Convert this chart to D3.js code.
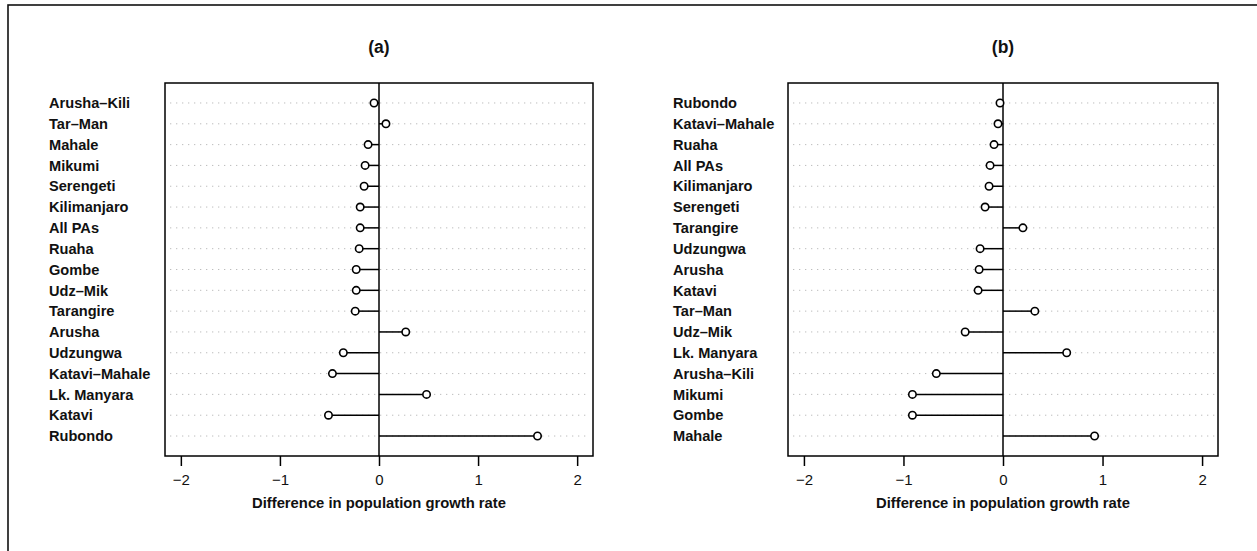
<!DOCTYPE html>
<html>
<head>
<meta charset="utf-8">
<script src="https://cdn.jsdelivr.net/npm/d3@7"></script>
<style>
  html, body { margin: 0; padding: 0; background: #fff; }
  svg { display: block; font-family: "Liberation Sans", Arial, Helvetica, sans-serif; }
</style>
</head>
<body>
<svg id="chart" width="1257" height="551"></svg>
<script>
// Panel (a): site names, top to bottom, and their growth-rate differences
const sitesA = ["Arusha\u2013Kili", "Tar\u2013Man", "Mahale", "Mikumi", "Serengeti", "Kilimanjaro",
  "All PAs", "Ruaha", "Gombe", "Udz\u2013Mik", "Tarangire", "Arusha", "Udzungwa",
  "Katavi\u2013Mahale", "Lk. Manyara", "Katavi", "Rubondo"];
const valuesA = [-0.05, 0.07, -0.11, -0.14, -0.15, -0.19, -0.19, -0.20, -0.23, -0.23, -0.24,
  0.27, -0.36, -0.47, 0.48, -0.51, 1.60];

// Panel (b)
const sitesB = ["Rubondo", "Katavi\u2013Mahale", "Ruaha", "All PAs", "Kilimanjaro", "Serengeti",
  "Tarangire", "Udzungwa", "Arusha", "Katavi", "Tar\u2013Man", "Udz\u2013Mik", "Lk. Manyara",
  "Arusha\u2013Kili", "Mikumi", "Gombe", "Mahale"];
const valuesB = [-0.03, -0.05, -0.09, -0.13, -0.14, -0.18, 0.20, -0.23, -0.24, -0.25, 0.32,
  -0.38, 0.64, -0.67, -0.91, -0.91, 0.92];

const xTicks = [-2, -1, 0, 1, 2];
const xDomain = [-2.16, 2.16];
const panelTitles = ["(a)", "(b)"];
const xTitle = "Difference in population growth rate";

const svg = d3.select("#chart");

// Outer frame (runs off the right and bottom edges)
svg.append("rect")
  .attr("x", 8).attr("y", 5)
  .attr("width", 2000).attr("height", 1000)
  .attr("fill", "none").attr("stroke", "#111").attr("stroke-width", 1.6);

function drawPanel(names, values, title, box, labelX) {
  const g = svg.append("g");
  const x = d3.scaleLinear().domain(xDomain).range([box.left, box.right]);
  const y = d3.scalePoint().domain(names).range([box.top, box.bottom]).padding(0.96);

  // dotted guide lines
  g.selectAll("line.guide").data(names).join("line")
    .attr("class", "guide")
    .attr("x1", box.left + 5).attr("x2", box.right - 3)
    .attr("y1", d => y(d)).attr("y2", d => y(d))
    .attr("stroke", "#bdbdbd").attr("stroke-width", 1)
    .attr("stroke-dasharray", "1.3,4.7");

  // zero reference line
  g.append("line")
    .attr("x1", x(0)).attr("x2", x(0))
    .attr("y1", box.top).attr("y2", box.bottom)
    .attr("stroke", "#000").attr("stroke-width", 1.5);

  // stems
  g.selectAll("line.stem").data(values).join("line")
    .attr("class", "stem")
    .attr("x1", x(0)).attr("x2", d => x(d))
    .attr("y1", (d, i) => y(names[i])).attr("y2", (d, i) => y(names[i]))
    .attr("stroke", "#000").attr("stroke-width", 1.5);

  // open points
  g.selectAll("circle").data(values).join("circle")
    .attr("cx", d => x(d))
    .attr("cy", (d, i) => y(names[i]))
    .attr("r", 3.7)
    .attr("fill", "#fff").attr("stroke", "#000").attr("stroke-width", 1.6);

  // plot box
  g.append("rect")
    .attr("x", box.left).attr("y", box.top)
    .attr("width", box.right - box.left).attr("height", box.bottom - box.top)
    .attr("fill", "none").attr("stroke", "#000").attr("stroke-width", 1.5);

  // site labels
  g.selectAll("text.site").data(names).join("text")
    .attr("class", "site")
    .attr("x", labelX).attr("y", d => y(d)).attr("dy", "0.36em")
    .attr("font-size", 14.6).attr("font-weight", "bold").attr("fill", "#111")
    .text(d => d);

  // x axis
  const axis = d3.axisBottom(x).tickValues(xTicks).tickSize(10).tickPadding(8)
    .tickFormat(d3.format("d"));
  const ax = g.append("g").attr("transform", `translate(0,${box.bottom})`).call(axis);
  ax.select(".domain").remove();
  ax.selectAll(".tick line").attr("stroke", "#000").attr("stroke-width", 1.5);
  ax.selectAll(".tick text").attr("font-size", 15).attr("fill", "#111")
    .attr("font-family", "Liberation Sans, Arial, sans-serif");

  // axis title
  g.append("text")
    .attr("x", (box.left + box.right) / 2).attr("y", box.bottom + 52)
    .attr("text-anchor", "middle")
    .attr("font-size", 14.8).attr("font-weight", "bold").attr("fill", "#111")
    .text(xTitle);

  // panel title
  g.append("text")
    .attr("x", (box.left + box.right) / 2).attr("y", 53)
    .attr("text-anchor", "middle")
    .attr("font-size", 17.5).attr("font-weight", "bold").attr("fill", "#111")
    .text(title);
}

drawPanel(sitesA, valuesA, panelTitles[0], { left: 165, right: 593, top: 83, bottom: 456 }, 49);
drawPanel(sitesB, valuesB, panelTitles[1], { left: 788, right: 1218, top: 83, bottom: 456 }, 673);
</script>
</body>
</html>
